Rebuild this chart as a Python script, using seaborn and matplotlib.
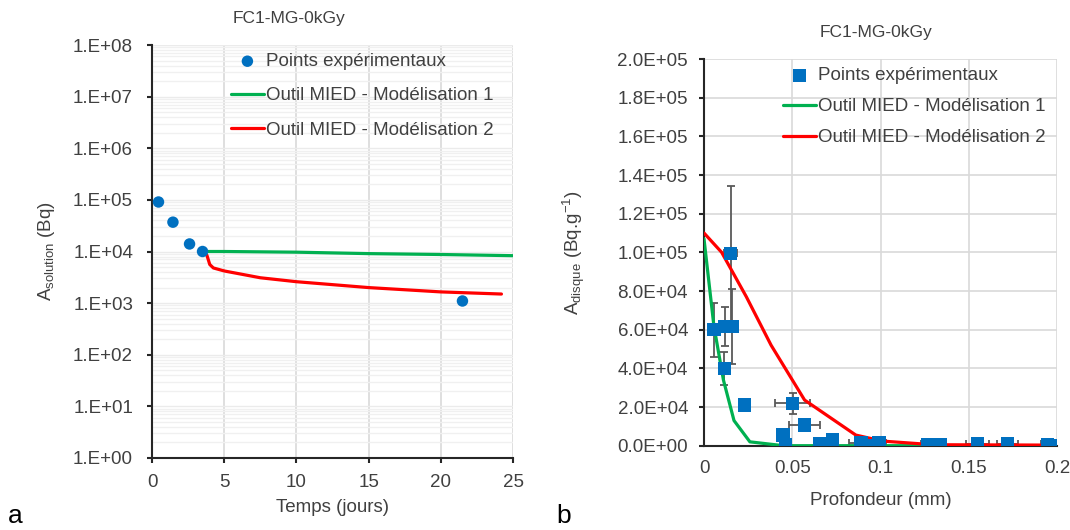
import numpy as np
import pandas as pd
import matplotlib
matplotlib.use("Agg")
import matplotlib.pyplot as plt
import matplotlib.ticker as mticker
import seaborn as sns

# ---------------- data ----------------
title = "FC1-MG-0kGy"

# panel a
t_exp = [0.45, 1.45, 2.6, 3.5, 21.5]
a_sol_exp = [9.1e4, 3.7e4, 1.4e4, 1.0e4, 1.1e3]

t_mod1 = [3.5, 5, 10, 15, 20, 25]
a_sol_mod1 = [1.0e4, 1.0e4, 9.7e3, 9.1e3, 8.75e3, 8.3e3]

t_mod2 = [3.5, 3.8, 4.0, 4.25, 5, 7.5, 10, 15, 20, 24.2]
a_sol_mod2 = [1.0e4, 8.5e3, 5.6e3, 4.8e3, 4.2e3, 3.1e3, 2.6e3, 2.0e3, 1.65e3, 1.5e3]

# panel b
depth_exp = [0.0056, 0.0118, 0.016, 0.0115, 0.0151, 0.023, 0.0447, 0.046, 0.0503,
             0.057, 0.0654, 0.0729, 0.0889, 0.0923, 0.0992, 0.127, 0.134, 0.155,
             0.172, 0.1947, 0.198]
a_disq_exp = [60000, 61500, 61500, 40000, 99500, 21000, 5500, 300, 22000,
              10700, 1200, 2900, 1500, 0, 1500, 700, 700, 800,
              800, 700, 0]
depth_err = [0, 0, 0, 0, 0.0037, 0, 0, 0, 0.0099,
             0.0087, 0, 0, 0.0065, 0, 0.004, 0.004, 0, 0.0065,
             0.006, 0.004, 0]
a_disq_err = [14000, 10000, 19500, 8600, 35000, 1500, 0, 0, 5400,
              0, 0, 0, 0, 0, 0, 0, 0, 0,
              0, 0, 0]

depth_mod1 = [0, 0.0056, 0.011, 0.017, 0.026, 0.045, 0.1, 0.2]
a_disq_mod1 = [107000, 62000, 34000, 13000, 2000, 0, 0, 0]

depth_mod2 = [0, 0.01, 0.024, 0.038, 0.057, 0.086, 0.101, 0.13, 0.2]
a_disq_mod2 = [110000, 100000, 77000, 52000, 23600, 5500, 2400, 500, 300]

lab_exp = "Points expérimentaux"
lab_m1 = "Outil MIED - Modélisation 1"
lab_m2 = "Outil MIED - Modélisation 2"

# ---------------- style ----------------
sns.set_style("white")
plt.rcParams["font.family"] = ["Liberation Sans", "DejaVu Sans"]
plt.rcParams["mathtext.fontset"] = "custom"
plt.rcParams["mathtext.rm"] = "Liberation Sans"
plt.rcParams["mathtext.it"] = "Liberation Sans"

BLUE = "#0070C0"
GREEN = "#00B050"
RED = "#FF0000"
GRID = "#d9d9d9"
TXT = "#404040"
FS = 13.5
LW = 2.3

W, H = 1070, 530
fig = plt.figure(figsize=(W / 100, H / 100), dpi=100)


def ax_rect(l, r, t, b):
    return [l / W, 1 - b / H, (r - l) / W, (b - t) / H]


# ---------------- panel a ----------------
ax1 = fig.add_axes(ax_rect(152, 513, 45, 458))
df_exp = pd.DataFrame({"t": t_exp, "a": a_sol_exp})
df_m1 = pd.DataFrame({"t": t_mod1, "a": a_sol_mod1})
df_m2 = pd.DataFrame({"t": t_mod2, "a": a_sol_mod2})

sns.scatterplot(data=df_exp, x="t", y="a", ax=ax1, color=BLUE, s=68,
                edgecolor="none", label=lab_exp, zorder=4)
sns.lineplot(data=df_m1, x="t", y="a", ax=ax1, color=GREEN, lw=LW,
             label=lab_m1, zorder=3)
sns.lineplot(data=df_m2, x="t", y="a", ax=ax1, color=RED, lw=LW,
             label=lab_m2, zorder=3)

ax1.set_yscale("log")
ax1.set_ylim(1, 1e8)
ax1.set_xlim(0, 25)
ax1.set_xticks([0, 5, 10, 15, 20, 25])
ax1.yaxis.set_major_locator(mticker.LogLocator(base=10, numticks=20))
ax1.yaxis.set_minor_locator(mticker.LogLocator(base=10, subs=np.arange(2, 10), numticks=100))
ax1.yaxis.set_major_formatter(mticker.FuncFormatter(lambda v, p: "1.E+%02d" % int(round(np.log10(v)))))
ax1.yaxis.set_minor_formatter(mticker.NullFormatter())
ax1.grid(axis="x", which="major", color=GRID, lw=1.2)
ax1.grid(axis="y", which="major", color="#ebebeb", lw=1.0)
ax1.grid(axis="y", which="minor", color="#f0f0f0", lw=1.0)
ax1.set_axisbelow(True)
for s in ["top", "right"]:
    ax1.spines[s].set_visible(False)
for s in ["left", "bottom"]:
    ax1.spines[s].set_color("#262626")
    ax1.spines[s].set_linewidth(1.5)
ax1.tick_params(axis="y", which="major", direction="out", length=3.6, width=1.5,
                color="#262626", labelsize=FS, labelcolor=TXT, left=True, pad=10)
ax1.tick_params(axis="x", which="major", direction="out", length=3.6, width=1.5,
                color="#262626", labelsize=FS, labelcolor=TXT, bottom=True, pad=7.8)
ax1.tick_params(axis="y", which="minor", length=0)
ax1.set_xlabel("Temps (jours)", fontsize=FS, color=TXT)
ax1.set_ylabel(r"$\mathregular{A_{solution}}$ (Bq)", fontsize=FS, color=TXT)
ax1.yaxis.set_label_coords(-0.263, 0.5)
ax1.xaxis.set_label_coords(0.5, -0.099)
ax1.legend(loc="upper left", bbox_to_anchor=(231 / W, 1 - 53 / H),
           bbox_transform=fig.transFigure, frameon=False, fontsize=FS,
           handlelength=1.75, handletextpad=0.12, labelspacing=0.92,
           borderpad=0, borderaxespad=0, labelcolor=TXT)

# ---------------- panel b ----------------
ax2 = fig.add_axes(ax_rect(704, 1057, 59, 445.7))
df_b = pd.DataFrame({"d": depth_exp, "a": a_disq_exp})
df_b1 = pd.DataFrame({"d": depth_mod1, "a": a_disq_mod1})
df_b2 = pd.DataFrame({"d": depth_mod2, "a": a_disq_mod2})

ax2.errorbar(depth_exp, a_disq_exp, xerr=depth_err, yerr=a_disq_err, fmt="none",
             ecolor="#595959", elinewidth=1.3, capsize=3, capthick=1.3, zorder=2)
sns.lineplot(data=df_b1, x="d", y="a", ax=ax2, color=GREEN, lw=LW,
             label=lab_m1, zorder=3)
sns.lineplot(data=df_b2, x="d", y="a", ax=ax2, color=RED, lw=LW,
             label=lab_m2, zorder=3)
sns.scatterplot(data=df_b, x="d", y="a", ax=ax2, color=BLUE, marker="s", s=92,
                edgecolor="none", label=lab_exp, zorder=4)

ax2.set_xlim(0, 0.2)
ax2.set_ylim(0, 2.0e5)
ax2.set_xticks([0, 0.05, 0.1, 0.15, 0.2])
ax2.xaxis.set_major_formatter(mticker.FuncFormatter(lambda v, p: "0" if v == 0 else ("%g" % v)))
ax2.set_yticks(np.arange(0, 2.0e5 + 1, 2e4))
ax2.yaxis.set_major_formatter(mticker.FuncFormatter(lambda v, p: "%.1E" % v))
ax2.grid(True, color=GRID, lw=1.2)
ax2.set_axisbelow(True)
for s in ["top", "right"]:
    ax2.spines[s].set_visible(False)
for s in ["left", "bottom"]:
    ax2.spines[s].set_color("#262626")
    ax2.spines[s].set_linewidth(1.5)
ax2.tick_params(axis="y", direction="out", length=3.6, width=1.5, color="#262626",
                labelsize=FS, labelcolor=TXT, left=True, pad=7.9)
ax2.tick_params(axis="x", length=0, labelsize=FS, labelcolor=TXT, pad=10)
ax2.set_xlabel("Profondeur (mm)", fontsize=FS, color=TXT)
ax2.set_ylabel(r"$\mathregular{A_{disque}}$ (Bq.g$\mathregular{^{-1}}$)", fontsize=FS, color=TXT)
ax2.yaxis.set_label_coords(-0.331, 0.5)
ax2.xaxis.set_label_coords(0.5, -0.12)

h, l = ax2.get_legend_handles_labels()
order = [l.index(lab_exp), l.index(lab_m1), l.index(lab_m2)]
ax2.legend([h[i] for i in order], [l[i] for i in order], loc="upper left",
           bbox_to_anchor=(783 / W, 1 - 67 / H), bbox_transform=fig.transFigure,
           frameon=False, fontsize=FS, handlelength=1.75, handletextpad=0.12,
           labelspacing=0.74, borderpad=0, borderaxespad=0, labelcolor=TXT)

# ---------------- titles & panel labels ----------------
fig.text(289 / W, 1 - 18 / H, title, ha="center", va="center", fontsize=12.5, color=TXT)
fig.text(876 / W, 1 - 32 / H, title, ha="center", va="center", fontsize=12.5, color=TXT)
fig.text(8 / W, 1 - 516 / H, "a", ha="left", va="center", fontsize=19, color="#000000")
fig.text(556 / W, 1 - 516 / H, "b", ha="left", va="center", fontsize=19, color="#000000")

fig.savefig("out.png", dpi=100)
